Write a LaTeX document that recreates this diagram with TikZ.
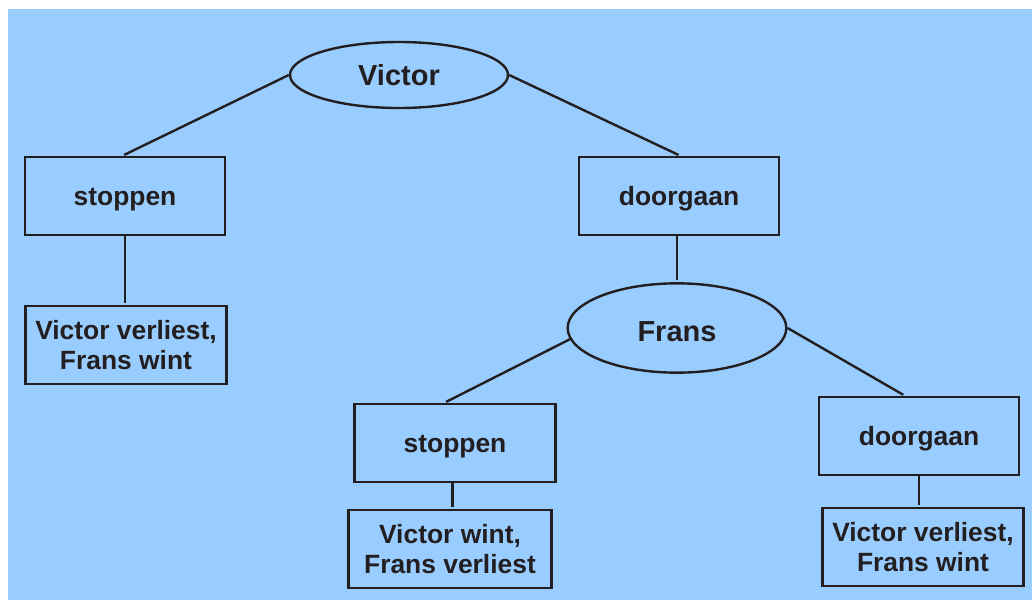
\documentclass[tikz,border=0pt]{standalone}
\usepackage{fontspec}
\setmainfont{Liberation Sans}
\usetikzlibrary{shapes.geometric}
\definecolor{bgblue}{HTML}{99CCFF}
\definecolor{ink}{HTML}{231F20}
\newcommand{\liftstrut}[1]{\rule{0pt}{#1}}

\begin{document}
\begin{tikzpicture}[x=0.75pt,y=-0.75pt,
    choice/.style={draw=ink,line width=1.8pt,minimum width=150pt,minimum height=58.5pt,
      inner sep=0pt,align=center,text=ink,font=\fontsize{19.8}{22.5}\selectfont\bfseries,
      execute at begin node=\liftstrut{18.5pt}},
    outcome/.style={choice,minimum width=151pt,execute at begin node=\liftstrut{22.5pt}},
    player/.style={ellipse,draw=ink,line width=1.8pt,inner sep=0pt,text=ink,
      font=\fontsize{21.75}{24}\selectfont\bfseries},
    branch/.style={draw=ink,line width=1.8pt,shorten >=1.5pt}]
  \useasboundingbox (0,0) rectangle (1032,600);
  \fill[bgblue] (8,9) rectangle (1032,600);

  % first move: Victor
  \node[player,minimum width=163.5pt,minimum height=49.5pt] (victor) at (399,75) {Victor};
  \node[choice] (stop1) at (125,196) {stoppen};
  \node[choice] (door1) at (679,196) {doorgaan};
  \node[outcome] (vv1) at (126,345) {Victor verliest,\\Frans wint};

  % second move: Frans
  \node[player,minimum width=164pt,minimum height=67pt] (frans) at (677,328) {\liftstrut{20pt}Frans};
  \node[choice,minimum width=151pt] (stop2) at (455,443) {stoppen};
  \node[choice] (door2) at (919,436) {doorgaan};
  \node[outcome,minimum width=152pt] (vw) at (450,549) {Victor wint,\\Frans verliest};
  \node[outcome] (vv2) at (923,547) {Victor verliest,\\Frans wint};

  % branches
  \draw[branch] (victor.west) -- ([xshift=-2pt]stop1.north);
  \draw[branch] (victor.east) -- ([xshift=1pt]door1.north);
  \draw[branch] (stop1.south) -- (stop1.south |- vv1.north);
  \draw[branch] (door1.south -| frans.north) -- (frans.north);
  \draw[branch] (frans.186) -- ([xshift=-8pt]stop2.north);
  \draw[branch] (frans.east) -- ([xshift=-10.5pt]door2.north);
  \draw[branch] ([xshift=-2pt]stop2.south) -- ([xshift=-2pt]stop2.south |- vw.north);
  \draw[branch] (door2.south) -- (door2.south |- vv2.north);
\end{tikzpicture}
\end{document}
